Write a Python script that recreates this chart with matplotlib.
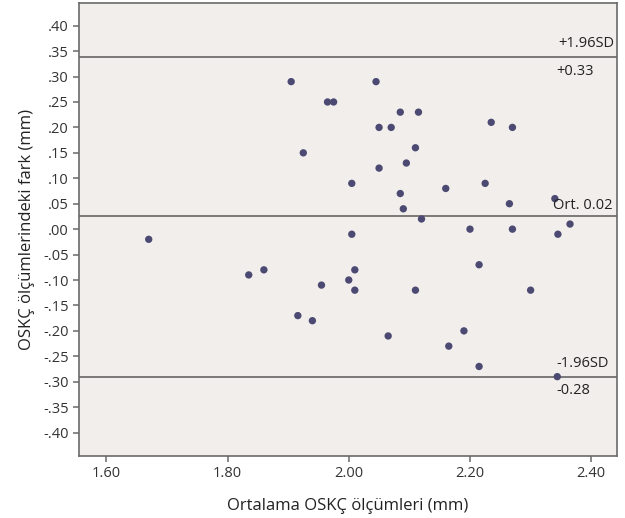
import numpy as np
import matplotlib
matplotlib.use("Agg")
import matplotlib.pyplot as plt
from matplotlib.ticker import FuncFormatter

plt.rcParams['font.family'] = ['Open Sans', 'DejaVu Sans']

# mean of the two measurements (mm)
mean_vals = [
    1.905, 1.925, 2.045, 1.965, 1.975, 2.085, 2.115, 2.05, 2.07, 2.235,
    2.27, 2.11, 2.095, 2.05, 2.005, 2.225, 2.16, 2.085, 2.34, 2.265,
    2.09, 2.12, 2.365, 2.20, 2.27, 2.005, 2.345,
    1.67, 1.835, 1.86, 1.916, 1.94, 1.955, 2.00, 2.01, 2.01, 2.065,
    2.11, 2.165, 2.19, 2.215, 2.215, 2.30, 2.344,
]
# difference between the two measurements (mm)
diff_vals = [
    0.29, 0.15, 0.29, 0.25, 0.25, 0.23, 0.23, 0.20, 0.20, 0.21,
    0.20, 0.16, 0.13, 0.12, 0.09, 0.09, 0.08, 0.07, 0.06, 0.05,
    0.04, 0.02, 0.01, 0.00, 0.00, -0.01, -0.01,
    -0.02, -0.09, -0.08, -0.17, -0.18, -0.11, -0.10, -0.08, -0.12, -0.21,
    -0.12, -0.23, -0.20, -0.07, -0.27, -0.12, -0.29,
]

upper_loa = 0.338
mean_diff = 0.025
lower_loa = -0.29

x_ticks = [1.60, 1.80, 2.00, 2.20, 2.40]
y_ticks = [0.40, 0.35, 0.30, 0.25, 0.20, 0.15, 0.10, 0.05, 0.00,
           -0.05, -0.10, -0.15, -0.20, -0.25, -0.30, -0.35, -0.40]

fig = plt.figure(figsize=(6.25, 5.18), dpi=100)
ax = fig.add_axes([0.1264, 0.1197, 0.8608, 0.8745])
ax.set_facecolor('#f1eeeb')

line_kw = dict(color='#5a5a5a', linewidth=1.1, zorder=1)
ax.axhline(upper_loa, **line_kw)
ax.axhline(mean_diff, **line_kw)
ax.axhline(lower_loa, **line_kw)

ax.scatter(mean_vals, diff_vals, s=28, color='#4c4a72', edgecolors='none', zorder=3)

txt_kw = dict(fontsize=10.5, color='#222222', zorder=4)
ax.text(2.4385, upper_loa + 0.012, '+1.96SD', ha='right', va='bottom', **txt_kw)
ax.text(2.343, upper_loa - 0.013, '+0.33', ha='left', va='top', **txt_kw)
ax.text(2.337, mean_diff + 0.006, 'Ort. 0.02', ha='left', va='bottom', **txt_kw)
ax.text(2.343, lower_loa + 0.012, '-1.96SD', ha='left', va='bottom', **txt_kw)
ax.text(2.343, lower_loa - 0.013, '-0.28', ha='left', va='top', **txt_kw)

ax.set_xlim(1.555, 2.4425)
ax.set_ylim(-0.446, 0.4446)
ax.set_xticks(x_ticks)
ax.set_yticks(y_ticks)
ax.xaxis.set_major_formatter(FuncFormatter(lambda v, p: f"{v:.2f}"))


def short_fmt(v, p):
    v = round(v, 2)
    if abs(v) < 1e-9:
        return '.00'
    s = f"{v:.2f}"
    return s.replace('0.', '.', 1)


ax.yaxis.set_major_formatter(FuncFormatter(short_fmt))

for side in ax.spines.values():
    side.set_color('#6a6a6a')
    side.set_linewidth(1.2)
ax.tick_params(axis='both', colors='#6a6a6a', labelcolor='#333333',
               labelsize=10.5, length=4, width=1.1, direction='out')

ax.set_xlabel('Ortalama OSKÇ ölçümleri (mm)', fontsize=12, color='#222222', labelpad=12)
ax.set_ylabel('OSKÇ ölçümlerindeki fark (mm)', fontsize=12, color='#222222', labelpad=6)

fig.savefig('out.png', dpi=100)
